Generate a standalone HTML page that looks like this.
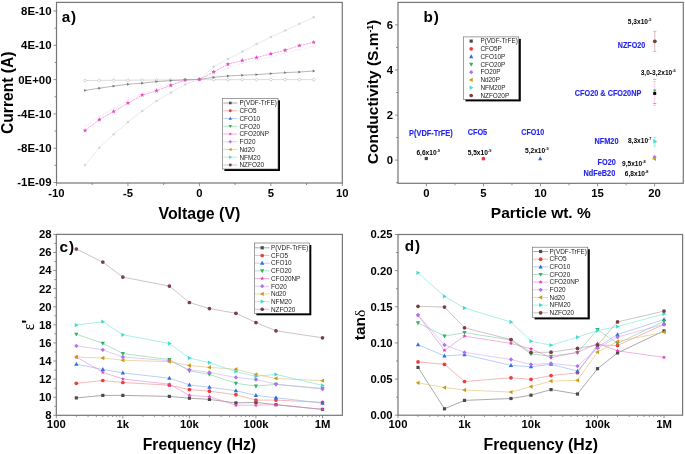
<!DOCTYPE html>
<html><head><meta charset="utf-8"><style>
html,body{margin:0;padding:0;background:#fff;}
body{width:685px;height:454px;overflow:hidden;position:relative;font-family:"Liberation Sans", sans-serif;}
svg text{font-family:"Liberation Sans", sans-serif;}
svg{will-change:transform;}
</style></head><body>
<svg width="685" height="454" viewBox="0 0 685 454" style="position:absolute;left:0;top:0" font-family='"Liberation Sans", sans-serif'>
<rect width="685" height="454" fill="#fff"/>
<rect x="56.5" y="2.4" width="285.8" height="180.6" fill="none" stroke="#767676" stroke-width="1.2"/>
<line x1="56.5" y1="183" x2="56.5" y2="186" stroke="#767676" stroke-width="0.8" />
<text x="56.5" y="196.5" font-size="11.3" font-weight="bold" fill="#000" text-anchor="middle" >-10</text>
<line x1="127.95" y1="183" x2="127.95" y2="186" stroke="#767676" stroke-width="0.8" />
<text x="127.95" y="196.5" font-size="11.3" font-weight="bold" fill="#000" text-anchor="middle" >-5</text>
<line x1="199.4" y1="183" x2="199.4" y2="186" stroke="#767676" stroke-width="0.8" />
<text x="199.4" y="196.5" font-size="11.3" font-weight="bold" fill="#000" text-anchor="middle" >0</text>
<line x1="270.85" y1="183" x2="270.85" y2="186" stroke="#767676" stroke-width="0.8" />
<text x="270.85" y="196.5" font-size="11.3" font-weight="bold" fill="#000" text-anchor="middle" >5</text>
<line x1="342.3" y1="183" x2="342.3" y2="186" stroke="#767676" stroke-width="0.8" />
<text x="342.3" y="196.5" font-size="11.3" font-weight="bold" fill="#000" text-anchor="middle" >10</text>
<line x1="92.23" y1="183" x2="92.23" y2="185" stroke="#767676" stroke-width="0.8" />
<line x1="163.68" y1="183" x2="163.68" y2="185" stroke="#767676" stroke-width="0.8" />
<line x1="235.12" y1="183" x2="235.12" y2="185" stroke="#767676" stroke-width="0.8" />
<line x1="306.57" y1="183" x2="306.57" y2="185" stroke="#767676" stroke-width="0.8" />
<line x1="53.5" y1="11" x2="56.5" y2="11" stroke="#767676" stroke-width="0.8" />
<text x="51.5" y="14.9" font-size="11.4" font-weight="bold" fill="#000" text-anchor="end" >8E-10</text>
<line x1="53.5" y1="45.3" x2="56.5" y2="45.3" stroke="#767676" stroke-width="0.8" />
<text x="51.5" y="49.2" font-size="11.4" font-weight="bold" fill="#000" text-anchor="end" >4E-10</text>
<line x1="53.5" y1="79.6" x2="56.5" y2="79.6" stroke="#767676" stroke-width="0.8" />
<text x="51.5" y="83.5" font-size="11.4" font-weight="bold" fill="#000" text-anchor="end" >0E+00</text>
<line x1="53.5" y1="113.9" x2="56.5" y2="113.9" stroke="#767676" stroke-width="0.8" />
<text x="51.5" y="117.8" font-size="11.4" font-weight="bold" fill="#000" text-anchor="end" >-4E-10</text>
<line x1="53.5" y1="148.2" x2="56.5" y2="148.2" stroke="#767676" stroke-width="0.8" />
<text x="51.5" y="152.1" font-size="11.4" font-weight="bold" fill="#000" text-anchor="end" >-8E-10</text>
<line x1="53.5" y1="182.5" x2="56.5" y2="182.5" stroke="#767676" stroke-width="0.8" />
<text x="51.5" y="186.4" font-size="11.4" font-weight="bold" fill="#000" text-anchor="end" >-1E-09</text>
<line x1="54.5" y1="28.15" x2="56.5" y2="28.15" stroke="#767676" stroke-width="0.8" />
<line x1="54.5" y1="62.45" x2="56.5" y2="62.45" stroke="#767676" stroke-width="0.8" />
<line x1="54.5" y1="96.75" x2="56.5" y2="96.75" stroke="#767676" stroke-width="0.8" />
<line x1="54.5" y1="131.05" x2="56.5" y2="131.05" stroke="#767676" stroke-width="0.8" />
<line x1="54.5" y1="165.35" x2="56.5" y2="165.35" stroke="#767676" stroke-width="0.8" />
<text x="199.4" y="218.7" font-size="15.9" font-weight="bold" fill="#000" text-anchor="middle" >Voltage (V)</text>
<text transform="translate(12.7,92.8) rotate(-90)" font-size="15.6" font-weight="bold" text-anchor="middle">Current (A)</text>
<text x="61.8" y="21.6" font-size="15.3" font-weight="bold" fill="#000" text-anchor="start" letter-spacing="0.8">a)</text>
<polyline points="85.08,165.1 99.37,147.7 113.66,134.2 127.95,122.1 142.24,111 156.53,100.9 170.82,92.6 185.11,84.5 199.4,79.4 213.69,66.8 227.98,59 242.27,51.6 256.56,44.1 270.85,37.1 285.14,30.4 299.43,23.8 313.72,17.3" fill="none" stroke="#dcdcdc" stroke-width="0.6" />
<circle cx="85.08" cy="165.1" r="1.25" fill="#d6d6d6"/>
<circle cx="99.37" cy="147.7" r="1.25" fill="#d6d6d6"/>
<circle cx="113.66" cy="134.2" r="1.25" fill="#d6d6d6"/>
<circle cx="127.95" cy="122.1" r="1.25" fill="#d6d6d6"/>
<circle cx="142.24" cy="111" r="1.25" fill="#d6d6d6"/>
<circle cx="156.53" cy="100.9" r="1.25" fill="#d6d6d6"/>
<circle cx="170.82" cy="92.6" r="1.25" fill="#d6d6d6"/>
<circle cx="185.11" cy="84.5" r="1.25" fill="#d6d6d6"/>
<circle cx="199.4" cy="79.4" r="1.25" fill="#d6d6d6"/>
<circle cx="213.69" cy="66.8" r="1.25" fill="#d6d6d6"/>
<circle cx="227.98" cy="59" r="1.25" fill="#d6d6d6"/>
<circle cx="242.27" cy="51.6" r="1.25" fill="#d6d6d6"/>
<circle cx="256.56" cy="44.1" r="1.25" fill="#d6d6d6"/>
<circle cx="270.85" cy="37.1" r="1.25" fill="#d6d6d6"/>
<circle cx="285.14" cy="30.4" r="1.25" fill="#d6d6d6"/>
<circle cx="299.43" cy="23.8" r="1.25" fill="#d6d6d6"/>
<circle cx="313.72" cy="17.3" r="1.25" fill="#d6d6d6"/>
<polyline points="85.08,126 99.37,116.3 113.66,108.3 127.95,100.6 142.24,93.2 156.53,88.6 170.82,84.2 185.11,80.8 199.4,79.4 213.69,73.8 227.98,68 242.27,63.5 256.56,60.1 270.85,56.9 285.14,53 299.43,49.6 313.72,46.2" fill="none" stroke="#f7e6f3" stroke-width="0.6" />
<line x1="84.08" y1="126" x2="86.08" y2="126" stroke="#f0d8ea" stroke-width="0.6" />
<line x1="98.37" y1="116.3" x2="100.37" y2="116.3" stroke="#f0d8ea" stroke-width="0.6" />
<line x1="112.66" y1="108.3" x2="114.66" y2="108.3" stroke="#f0d8ea" stroke-width="0.6" />
<line x1="126.95" y1="100.6" x2="128.95" y2="100.6" stroke="#f0d8ea" stroke-width="0.6" />
<line x1="141.24" y1="93.2" x2="143.24" y2="93.2" stroke="#f0d8ea" stroke-width="0.6" />
<line x1="155.53" y1="88.6" x2="157.53" y2="88.6" stroke="#f0d8ea" stroke-width="0.6" />
<line x1="169.82" y1="84.2" x2="171.82" y2="84.2" stroke="#f0d8ea" stroke-width="0.6" />
<line x1="184.11" y1="80.8" x2="186.11" y2="80.8" stroke="#f0d8ea" stroke-width="0.6" />
<line x1="198.4" y1="79.4" x2="200.4" y2="79.4" stroke="#f0d8ea" stroke-width="0.6" />
<line x1="212.69" y1="73.8" x2="214.69" y2="73.8" stroke="#f0d8ea" stroke-width="0.6" />
<line x1="226.98" y1="68" x2="228.98" y2="68" stroke="#f0d8ea" stroke-width="0.6" />
<line x1="241.27" y1="63.5" x2="243.27" y2="63.5" stroke="#f0d8ea" stroke-width="0.6" />
<line x1="255.56" y1="60.1" x2="257.56" y2="60.1" stroke="#f0d8ea" stroke-width="0.6" />
<line x1="269.85" y1="56.9" x2="271.85" y2="56.9" stroke="#f0d8ea" stroke-width="0.6" />
<line x1="284.14" y1="53" x2="286.14" y2="53" stroke="#f0d8ea" stroke-width="0.6" />
<line x1="298.43" y1="49.6" x2="300.43" y2="49.6" stroke="#f0d8ea" stroke-width="0.6" />
<line x1="312.72" y1="46.2" x2="314.72" y2="46.2" stroke="#f0d8ea" stroke-width="0.6" />
<polyline points="85.08,80.5 99.37,80.4 113.66,80.3 127.95,80.2 142.24,80.1 156.53,80 170.82,79.9 185.11,79.7 199.4,79.5 213.69,79.7 227.98,79.7 242.27,79.6 256.56,79.6 270.85,79.6 285.14,79.6 299.43,79.6 313.72,79.6" fill="none" stroke="#c4c4c4" stroke-width="0.6" />
<polygon points="85.08,78.9 86.68,80.5 85.08,82.1 83.48,80.5" fill="#fff" stroke="#b4b4b4" stroke-width="0.6"/>
<polygon points="99.37,78.8 100.97,80.4 99.37,82 97.77,80.4" fill="#fff" stroke="#b4b4b4" stroke-width="0.6"/>
<polygon points="113.66,78.7 115.26,80.3 113.66,81.9 112.06,80.3" fill="#fff" stroke="#b4b4b4" stroke-width="0.6"/>
<polygon points="127.95,78.6 129.55,80.2 127.95,81.8 126.35,80.2" fill="#fff" stroke="#b4b4b4" stroke-width="0.6"/>
<polygon points="142.24,78.5 143.84,80.1 142.24,81.7 140.64,80.1" fill="#fff" stroke="#b4b4b4" stroke-width="0.6"/>
<polygon points="156.53,78.4 158.13,80 156.53,81.6 154.93,80" fill="#fff" stroke="#b4b4b4" stroke-width="0.6"/>
<polygon points="170.82,78.3 172.42,79.9 170.82,81.5 169.22,79.9" fill="#fff" stroke="#b4b4b4" stroke-width="0.6"/>
<polygon points="185.11,78.1 186.71,79.7 185.11,81.3 183.51,79.7" fill="#fff" stroke="#b4b4b4" stroke-width="0.6"/>
<polygon points="199.4,77.9 201,79.5 199.4,81.1 197.8,79.5" fill="#fff" stroke="#b4b4b4" stroke-width="0.6"/>
<polygon points="213.69,78.1 215.29,79.7 213.69,81.3 212.09,79.7" fill="#fff" stroke="#b4b4b4" stroke-width="0.6"/>
<polygon points="227.98,78.1 229.58,79.7 227.98,81.3 226.38,79.7" fill="#fff" stroke="#b4b4b4" stroke-width="0.6"/>
<polygon points="242.27,78 243.87,79.6 242.27,81.2 240.67,79.6" fill="#fff" stroke="#b4b4b4" stroke-width="0.6"/>
<polygon points="256.56,78 258.16,79.6 256.56,81.2 254.96,79.6" fill="#fff" stroke="#b4b4b4" stroke-width="0.6"/>
<polygon points="270.85,78 272.45,79.6 270.85,81.2 269.25,79.6" fill="#fff" stroke="#b4b4b4" stroke-width="0.6"/>
<polygon points="285.14,78 286.74,79.6 285.14,81.2 283.54,79.6" fill="#fff" stroke="#b4b4b4" stroke-width="0.6"/>
<polygon points="299.43,78 301.03,79.6 299.43,81.2 297.83,79.6" fill="#fff" stroke="#b4b4b4" stroke-width="0.6"/>
<polygon points="313.72,78 315.32,79.6 313.72,81.2 312.12,79.6" fill="#fff" stroke="#b4b4b4" stroke-width="0.6"/>
<polyline points="85.08,90.4 99.37,88.2 113.66,86.1 127.95,84.2 142.24,83.2 156.53,81.6 170.82,80.6 185.11,79.9 199.4,79.4 213.69,77.3 227.98,76 242.27,75.2 256.56,74.6 270.85,73.6 285.14,72.6 299.43,72 313.72,71" fill="none" stroke="#989898" stroke-width="0.7" />
<polygon points="86.64,90.4 84.04,88.97 84.04,91.83" fill="#777"/>
<polygon points="100.93,88.2 98.33,86.77 98.33,89.63" fill="#777"/>
<polygon points="115.22,86.1 112.62,84.67 112.62,87.53" fill="#777"/>
<polygon points="129.51,84.2 126.91,82.77 126.91,85.63" fill="#777"/>
<polygon points="143.8,83.2 141.2,81.77 141.2,84.63" fill="#777"/>
<polygon points="158.09,81.6 155.49,80.17 155.49,83.03" fill="#777"/>
<polygon points="172.38,80.6 169.78,79.17 169.78,82.03" fill="#777"/>
<polygon points="186.67,79.9 184.07,78.47 184.07,81.33" fill="#777"/>
<polygon points="200.96,79.4 198.36,77.97 198.36,80.83" fill="#777"/>
<polygon points="215.25,77.3 212.65,75.87 212.65,78.73" fill="#777"/>
<polygon points="229.54,76 226.94,74.57 226.94,77.43" fill="#777"/>
<polygon points="243.83,75.2 241.23,73.77 241.23,76.63" fill="#777"/>
<polygon points="258.12,74.6 255.52,73.17 255.52,76.03" fill="#777"/>
<polygon points="272.41,73.6 269.81,72.17 269.81,75.03" fill="#777"/>
<polygon points="286.7,72.6 284.1,71.17 284.1,74.03" fill="#777"/>
<polygon points="300.99,72 298.39,70.57 298.39,73.43" fill="#777"/>
<polygon points="315.28,71 312.68,69.57 312.68,72.43" fill="#777"/>
<polyline points="85.08,130.5 99.37,119.7 113.66,111.5 127.95,103.1 142.24,95.1 156.53,90.7 170.82,85.4 185.11,79.9 199.4,79.4 213.69,71.9 227.98,64.2 242.27,60.5 256.56,57.5 270.85,53.8 285.14,50.2 299.43,45.6 313.72,42.3" fill="none" stroke="#ee80d6" stroke-width="0.7" stroke-dasharray="2.2,0.8"/>
<polygon points="85.08,128.12 85.68,129.67 87.34,129.76 86.05,130.82 86.48,132.43 85.08,131.52 83.68,132.43 84.11,130.82 82.82,129.76 84.48,129.67" fill="#e848c0"/>
<polygon points="99.37,117.32 99.97,118.87 101.63,118.96 100.34,120.02 100.77,121.63 99.37,120.72 97.97,121.63 98.4,120.02 97.11,118.96 98.77,118.87" fill="#e848c0"/>
<polygon points="113.66,109.12 114.26,110.67 115.92,110.76 114.63,111.82 115.06,113.43 113.66,112.52 112.26,113.43 112.69,111.82 111.4,110.76 113.06,110.67" fill="#e848c0"/>
<polygon points="127.95,100.72 128.55,102.27 130.21,102.36 128.92,103.42 129.35,105.03 127.95,104.12 126.55,105.03 126.98,103.42 125.69,102.36 127.35,102.27" fill="#e848c0"/>
<polygon points="142.24,92.72 142.84,94.27 144.5,94.36 143.21,95.42 143.64,97.03 142.24,96.12 140.84,97.03 141.27,95.42 139.98,94.36 141.64,94.27" fill="#e848c0"/>
<polygon points="156.53,88.32 157.13,89.87 158.79,89.96 157.5,91.02 157.93,92.63 156.53,91.72 155.13,92.63 155.56,91.02 154.27,89.96 155.93,89.87" fill="#e848c0"/>
<polygon points="170.82,83.02 171.42,84.57 173.08,84.66 171.79,85.72 172.22,87.33 170.82,86.42 169.42,87.33 169.85,85.72 168.56,84.66 170.22,84.57" fill="#e848c0"/>
<polygon points="185.11,77.52 185.71,79.07 187.37,79.16 186.08,80.22 186.51,81.83 185.11,80.92 183.71,81.83 184.14,80.22 182.85,79.16 184.51,79.07" fill="#e848c0"/>
<polygon points="199.4,77.02 200,78.57 201.66,78.66 200.37,79.72 200.8,81.33 199.4,80.42 198,81.33 198.43,79.72 197.14,78.66 198.8,78.57" fill="#e848c0"/>
<polygon points="213.69,69.52 214.29,71.07 215.95,71.16 214.66,72.22 215.09,73.83 213.69,72.92 212.29,73.83 212.72,72.22 211.43,71.16 213.09,71.07" fill="#e848c0"/>
<polygon points="227.98,61.82 228.58,63.37 230.24,63.46 228.95,64.52 229.38,66.13 227.98,65.22 226.58,66.13 227.01,64.52 225.72,63.46 227.38,63.37" fill="#e848c0"/>
<polygon points="242.27,58.12 242.87,59.67 244.53,59.76 243.24,60.82 243.67,62.43 242.27,61.52 240.87,62.43 241.3,60.82 240.01,59.76 241.67,59.67" fill="#e848c0"/>
<polygon points="256.56,55.12 257.16,56.67 258.82,56.76 257.53,57.82 257.96,59.43 256.56,58.52 255.16,59.43 255.59,57.82 254.3,56.76 255.96,56.67" fill="#e848c0"/>
<polygon points="270.85,51.42 271.45,52.97 273.11,53.06 271.82,54.12 272.25,55.73 270.85,54.82 269.45,55.73 269.88,54.12 268.59,53.06 270.25,52.97" fill="#e848c0"/>
<polygon points="285.14,47.82 285.74,49.37 287.4,49.46 286.11,50.52 286.54,52.13 285.14,51.22 283.74,52.13 284.17,50.52 282.88,49.46 284.54,49.37" fill="#e848c0"/>
<polygon points="299.43,43.22 300.03,44.77 301.69,44.86 300.4,45.92 300.83,47.53 299.43,46.62 298.03,47.53 298.46,45.92 297.17,44.86 298.83,44.77" fill="#e848c0"/>
<polygon points="313.72,39.92 314.32,41.47 315.98,41.56 314.69,42.62 315.12,44.23 313.72,43.32 312.32,44.23 312.75,42.62 311.46,41.56 313.12,41.47" fill="#e848c0"/>
<rect x="224.4" y="100.3" width="55.6" height="70.7" fill="#000"/>
<rect x="222.4" y="98.3" width="55.6" height="70.7" fill="#fff" stroke="#606060" stroke-width="0.6"/>
<line x1="223.4" y1="103" x2="237.2" y2="103" stroke="#707070" stroke-width="0.6" />
<rect x="229.02" y="101.72" width="2.56" height="2.56" fill="#4a4a4a"/>
<text x="239.5" y="105.3" font-size="6.4" font-weight="normal" fill="#202020" text-anchor="start" >P(VDF-TrFE)</text>
<line x1="223.4" y1="110.75" x2="237.2" y2="110.75" stroke="#f08a8a" stroke-width="0.6" />
<circle cx="230.3" cy="110.75" r="1.48" fill="#ee3b3b"/>
<text x="239.5" y="113.05" font-size="6.4" font-weight="normal" fill="#202020" text-anchor="start" >CFO5</text>
<line x1="223.4" y1="118.5" x2="237.2" y2="118.5" stroke="#8ab0ee" stroke-width="0.6" />
<polygon points="230.3,116.63 232.02,119.75 228.58,119.75" fill="#2f6fe0"/>
<text x="239.5" y="120.8" font-size="6.4" font-weight="normal" fill="#202020" text-anchor="start" >CFO10</text>
<line x1="223.4" y1="126.25" x2="237.2" y2="126.25" stroke="#7fcc9e" stroke-width="0.6" />
<polygon points="230.3,128.12 232.02,125 228.58,125" fill="#35b06a"/>
<text x="239.5" y="128.55" font-size="6.4" font-weight="normal" fill="#202020" text-anchor="start" >CFO20</text>
<line x1="223.4" y1="134" x2="237.2" y2="134" stroke="#e880cc" stroke-width="0.6" />
<polygon points="230.3,132.21 230.75,133.38 232,133.45 231.03,134.24 231.35,135.45 230.3,134.77 229.25,135.45 229.57,134.24 228.6,133.45 229.85,133.38" fill="#e040b8"/>
<text x="239.5" y="136.3" font-size="6.4" font-weight="normal" fill="#202020" text-anchor="start" >CFO20NP</text>
<line x1="223.4" y1="141.75" x2="237.2" y2="141.75" stroke="#cfaaf5" stroke-width="0.6" />
<polygon points="230.3,140.03 232.02,141.75 230.3,143.47 228.58,141.75" fill="#b070f0"/>
<text x="239.5" y="144.05" font-size="6.4" font-weight="normal" fill="#202020" text-anchor="start" >FO20</text>
<line x1="223.4" y1="149.5" x2="237.2" y2="149.5" stroke="#dcc070" stroke-width="0.6" />
<polygon points="228.43,149.5 231.55,147.78 231.55,151.22" fill="#cc9a10"/>
<text x="239.5" y="151.8" font-size="6.4" font-weight="normal" fill="#202020" text-anchor="start" >Nd20</text>
<line x1="223.4" y1="157.25" x2="237.2" y2="157.25" stroke="#70e4da" stroke-width="0.6" />
<polygon points="232.17,157.25 229.05,155.53 229.05,158.97" fill="#40dcd0"/>
<text x="239.5" y="159.55" font-size="6.4" font-weight="normal" fill="#202020" text-anchor="start" >NFM20</text>
<line x1="223.4" y1="165" x2="237.2" y2="165" stroke="#b09c9c" stroke-width="0.6" />
<circle cx="230.3" cy="165" r="1.48" fill="#7a3e46"/>
<text x="239.5" y="167.3" font-size="6.4" font-weight="normal" fill="#202020" text-anchor="start" >NZFO20</text>
<rect x="398" y="2.4" width="285.3" height="180.9" fill="none" stroke="#767676" stroke-width="1.2"/>
<line x1="426.4" y1="183.3" x2="426.4" y2="186.3" stroke="#767676" stroke-width="0.8" />
<text x="426.4" y="196.5" font-size="11.3" font-weight="bold" fill="#000" text-anchor="middle" >0</text>
<line x1="483.45" y1="183.3" x2="483.45" y2="186.3" stroke="#767676" stroke-width="0.8" />
<text x="483.45" y="196.5" font-size="11.3" font-weight="bold" fill="#000" text-anchor="middle" >5</text>
<line x1="540.5" y1="183.3" x2="540.5" y2="186.3" stroke="#767676" stroke-width="0.8" />
<text x="540.5" y="196.5" font-size="11.3" font-weight="bold" fill="#000" text-anchor="middle" >10</text>
<line x1="597.55" y1="183.3" x2="597.55" y2="186.3" stroke="#767676" stroke-width="0.8" />
<text x="597.55" y="196.5" font-size="11.3" font-weight="bold" fill="#000" text-anchor="middle" >15</text>
<line x1="654.6" y1="183.3" x2="654.6" y2="186.3" stroke="#767676" stroke-width="0.8" />
<text x="654.6" y="196.5" font-size="11.3" font-weight="bold" fill="#000" text-anchor="middle" >20</text>
<line x1="454.92" y1="183.3" x2="454.92" y2="185.3" stroke="#767676" stroke-width="0.8" />
<line x1="511.97" y1="183.3" x2="511.97" y2="185.3" stroke="#767676" stroke-width="0.8" />
<line x1="569.02" y1="183.3" x2="569.02" y2="185.3" stroke="#767676" stroke-width="0.8" />
<line x1="626.08" y1="183.3" x2="626.08" y2="185.3" stroke="#767676" stroke-width="0.8" />
<line x1="395" y1="160.1" x2="398" y2="160.1" stroke="#767676" stroke-width="0.8" />
<text x="393" y="164" font-size="11.3" font-weight="bold" fill="#000" text-anchor="end" >0</text>
<line x1="395" y1="115.04" x2="398" y2="115.04" stroke="#767676" stroke-width="0.8" />
<text x="393" y="118.94" font-size="11.3" font-weight="bold" fill="#000" text-anchor="end" >2</text>
<line x1="395" y1="69.98" x2="398" y2="69.98" stroke="#767676" stroke-width="0.8" />
<text x="393" y="73.88" font-size="11.3" font-weight="bold" fill="#000" text-anchor="end" >4</text>
<line x1="395" y1="24.92" x2="398" y2="24.92" stroke="#767676" stroke-width="0.8" />
<text x="393" y="28.82" font-size="11.3" font-weight="bold" fill="#000" text-anchor="end" >6</text>
<line x1="396" y1="182.63" x2="398" y2="182.63" stroke="#767676" stroke-width="0.8" />
<line x1="396" y1="137.57" x2="398" y2="137.57" stroke="#767676" stroke-width="0.8" />
<line x1="396" y1="92.51" x2="398" y2="92.51" stroke="#767676" stroke-width="0.8" />
<line x1="396" y1="47.45" x2="398" y2="47.45" stroke="#767676" stroke-width="0.8" />
<text x="540.8" y="218.3" font-size="15.5" font-weight="bold" fill="#000" text-anchor="middle" >Particle wt. %</text>
<text transform="translate(378.2,92) rotate(-90)" font-size="15.5" font-weight="bold" text-anchor="middle">Conductivity (S.m<tspan font-size="8.5" dy="-5.5">-1</tspan><tspan dy="5.5">)</tspan></text>
<text x="423.6" y="21.8" font-size="15.3" font-weight="bold" fill="#000" text-anchor="start" letter-spacing="0.8">b)</text>
<rect x="465.5" y="38.9" width="55.3" height="62.5" fill="#000"/>
<rect x="463.5" y="36.9" width="55.3" height="62.5" fill="#fff" stroke="#606060" stroke-width="0.6"/>
<rect x="469.6" y="39.5" width="3.2" height="3.2" fill="#4a4a4a"/>
<text x="480.4" y="43.4" font-size="6.4" font-weight="normal" fill="#202020" text-anchor="start" >P(VDF-TrFE)</text>
<circle cx="471.2" cy="48.87" r="1.85" fill="#ee3b3b"/>
<text x="480.4" y="51.17" font-size="6.4" font-weight="normal" fill="#202020" text-anchor="start" >CFO5P</text>
<polygon points="471.2,54.3 473.34,58.2 469.06,58.2" fill="#2f6fe0"/>
<text x="480.4" y="58.94" font-size="6.4" font-weight="normal" fill="#202020" text-anchor="start" >CFO10P</text>
<polygon points="471.2,66.75 473.34,62.85 469.06,62.85" fill="#35b06a"/>
<text x="480.4" y="66.71" font-size="6.4" font-weight="normal" fill="#202020" text-anchor="start" >CFO20P</text>
<polygon points="471.2,70.04 473.34,72.18 471.2,74.33 469.06,72.18" fill="#b070f0"/>
<text x="480.4" y="74.48" font-size="6.4" font-weight="normal" fill="#202020" text-anchor="start" >FO20P</text>
<polygon points="468.86,79.95 472.76,77.8 472.76,82.09" fill="#cc9a10"/>
<text x="480.4" y="82.25" font-size="6.4" font-weight="normal" fill="#202020" text-anchor="start" >Nd20P</text>
<polygon points="473.54,87.72 469.64,85.58 469.64,89.86" fill="#40dcd0"/>
<text x="480.4" y="90.02" font-size="6.4" font-weight="normal" fill="#202020" text-anchor="start" >NFM20P</text>
<circle cx="471.2" cy="95.49" r="1.85" fill="#7a3e46"/>
<text x="480.4" y="97.79" font-size="6.4" font-weight="normal" fill="#202020" text-anchor="start" >NZFO20P</text>
<rect x="424.7" y="156.9" width="3.2" height="3.2" fill="#4a4a4a"/>
<circle cx="483.4" cy="158.7" r="1.9" fill="#ee3b3b"/>
<polygon points="540.2,156.26 542.35,160.16 538.06,160.16" fill="#2f6fe0"/>
<line x1="654.8" y1="31.3" x2="654.8" y2="51.4" stroke="#c8a0a8" stroke-width="0.7" />
<line x1="653.2" y1="31.3" x2="656.4" y2="31.3" stroke="#c8a0a8" stroke-width="0.7" />
<line x1="653.2" y1="51.4" x2="656.4" y2="51.4" stroke="#c8a0a8" stroke-width="0.7" />
<circle cx="654.8" cy="41.3" r="1.9" fill="#7a3e46"/>
<line x1="654.7" y1="81.5" x2="654.7" y2="105.6" stroke="#f0b8e0" stroke-width="0.7" />
<line x1="653.1" y1="81.5" x2="656.3" y2="81.5" stroke="#f0b8e0" stroke-width="0.7" />
<line x1="653.1" y1="105.6" x2="656.3" y2="105.6" stroke="#f0b8e0" stroke-width="0.7" />
<line x1="653.1" y1="79.3" x2="656.3" y2="79.3" stroke="#60c090" stroke-width="0.8" />
<line x1="653.1" y1="103.5" x2="656.3" y2="103.5" stroke="#60c090" stroke-width="0.8" />
<polygon points="654.7,92.6 656.35,89.6 653.05,89.6" fill="#35b06a"/>
<rect x="653.2" y="91.9" width="3" height="3" fill="#000"/>
<line x1="654.8" y1="137.1" x2="654.8" y2="146.3" stroke="#80e8e0" stroke-width="0.7" />
<line x1="653.2" y1="137.1" x2="656.4" y2="137.1" stroke="#80e8e0" stroke-width="0.7" />
<line x1="653.2" y1="146.3" x2="656.4" y2="146.3" stroke="#80e8e0" stroke-width="0.7" />
<polygon points="657.3,141.5 653.3,139.3 653.3,143.7" fill="#40dcd0"/>
<polygon points="654.6,154.92 656.68,157 654.6,159.08 652.52,157" fill="#b070f0"/>
<polygon points="652,158.7 656,156.5 656,160.9" fill="#cc9a10"/>
<text x="409.1" y="136" font-size="8.6" font-weight="bold" fill="#2828f0" text-anchor="start" textLength="43.6" lengthAdjust="spacingAndGlyphs" stroke="#2828f0" stroke-width="0.15">P(VDF-TrFE)</text>
<text x="467.7" y="135" font-size="8.6" font-weight="bold" fill="#2828f0" text-anchor="start" textLength="19.4" lengthAdjust="spacingAndGlyphs" stroke="#2828f0" stroke-width="0.15">CFO5</text>
<text x="521.3" y="135" font-size="8.6" font-weight="bold" fill="#2828f0" text-anchor="start" textLength="22.9" lengthAdjust="spacingAndGlyphs" stroke="#2828f0" stroke-width="0.15">CFO10</text>
<text x="617.8" y="47.7" font-size="8.6" font-weight="bold" fill="#2828f0" text-anchor="start" textLength="27.4" lengthAdjust="spacingAndGlyphs" stroke="#2828f0" stroke-width="0.15">NZFO20</text>
<text x="574.8" y="96.4" font-size="8.6" font-weight="bold" fill="#2828f0" text-anchor="start" textLength="66.5" lengthAdjust="spacingAndGlyphs" stroke="#2828f0" stroke-width="0.15">CFO20 &amp; CFO20NP</text>
<text x="594.5" y="143.5" font-size="8.6" font-weight="bold" fill="#2828f0" text-anchor="start" textLength="24" lengthAdjust="spacingAndGlyphs" stroke="#2828f0" stroke-width="0.15">NFM20</text>
<text x="597.6" y="164.9" font-size="8.6" font-weight="bold" fill="#2828f0" text-anchor="start" textLength="18.2" lengthAdjust="spacingAndGlyphs" stroke="#2828f0" stroke-width="0.15">FO20</text>
<text x="583.5" y="176.1" font-size="8.6" font-weight="bold" fill="#2828f0" text-anchor="start" textLength="31.7" lengthAdjust="spacingAndGlyphs" stroke="#2828f0" stroke-width="0.15">NdFeB20</text>
<text x="627.8" y="23.8" font-size="6.6" font-weight="bold" fill="#000">5,3x10<tspan font-size="3.9" dy="-3">-5</tspan></text>
<text x="640.7" y="74.5" font-size="6.6" font-weight="bold" fill="#000">3,0-3,2x10<tspan font-size="3.9" dy="-3">-6</tspan></text>
<text x="627.9" y="143" font-size="6.6" font-weight="bold" fill="#000">8,3x10<tspan font-size="3.9" dy="-3">-7</tspan></text>
<text x="622" y="165.8" font-size="6.6" font-weight="bold" fill="#000">9,5x10<tspan font-size="3.9" dy="-3">-8</tspan></text>
<text x="624.8" y="176" font-size="6.6" font-weight="bold" fill="#000">6,8x10<tspan font-size="3.9" dy="-3">-8</tspan></text>
<text x="416.4" y="154.6" font-size="6.6" font-weight="bold" fill="#000">6,6x10<tspan font-size="3.9" dy="-3">-9</tspan></text>
<text x="467.7" y="154.6" font-size="6.6" font-weight="bold" fill="#000">5,5x10<tspan font-size="3.9" dy="-3">-9</tspan></text>
<text x="525" y="153.4" font-size="6.6" font-weight="bold" fill="#000">5,2x10<tspan font-size="3.9" dy="-3">-9</tspan></text>
<rect x="56.3" y="234.4" width="286.1" height="180.9" fill="none" stroke="#767676" stroke-width="1.2"/>
<line x1="56.3" y1="415.3" x2="56.3" y2="418.3" stroke="#767676" stroke-width="0.8" />
<text x="56.3" y="428.3" font-size="11.3" font-weight="bold" fill="#000" text-anchor="middle" >100</text>
<line x1="122.85" y1="415.3" x2="122.85" y2="418.3" stroke="#767676" stroke-width="0.8" />
<text x="122.85" y="428.3" font-size="11.3" font-weight="bold" fill="#000" text-anchor="middle" >1k</text>
<line x1="189.4" y1="415.3" x2="189.4" y2="418.3" stroke="#767676" stroke-width="0.8" />
<text x="189.4" y="428.3" font-size="11.3" font-weight="bold" fill="#000" text-anchor="middle" >10k</text>
<line x1="255.95" y1="415.3" x2="255.95" y2="418.3" stroke="#767676" stroke-width="0.8" />
<text x="255.95" y="428.3" font-size="11.3" font-weight="bold" fill="#000" text-anchor="middle" >100k</text>
<line x1="322.5" y1="415.3" x2="322.5" y2="418.3" stroke="#767676" stroke-width="0.8" />
<text x="322.5" y="428.3" font-size="11.3" font-weight="bold" fill="#000" text-anchor="middle" >1M</text>
<line x1="76.33" y1="415.3" x2="76.33" y2="417.1" stroke="#767676" stroke-width="0.7" />
<line x1="88.05" y1="415.3" x2="88.05" y2="417.1" stroke="#767676" stroke-width="0.7" />
<line x1="96.37" y1="415.3" x2="96.37" y2="417.1" stroke="#767676" stroke-width="0.7" />
<line x1="102.82" y1="415.3" x2="102.82" y2="417.1" stroke="#767676" stroke-width="0.7" />
<line x1="108.09" y1="415.3" x2="108.09" y2="417.1" stroke="#767676" stroke-width="0.7" />
<line x1="112.54" y1="415.3" x2="112.54" y2="417.1" stroke="#767676" stroke-width="0.7" />
<line x1="116.4" y1="415.3" x2="116.4" y2="417.1" stroke="#767676" stroke-width="0.7" />
<line x1="119.8" y1="415.3" x2="119.8" y2="417.1" stroke="#767676" stroke-width="0.7" />
<line x1="142.88" y1="415.3" x2="142.88" y2="417.1" stroke="#767676" stroke-width="0.7" />
<line x1="154.6" y1="415.3" x2="154.6" y2="417.1" stroke="#767676" stroke-width="0.7" />
<line x1="162.92" y1="415.3" x2="162.92" y2="417.1" stroke="#767676" stroke-width="0.7" />
<line x1="169.37" y1="415.3" x2="169.37" y2="417.1" stroke="#767676" stroke-width="0.7" />
<line x1="174.64" y1="415.3" x2="174.64" y2="417.1" stroke="#767676" stroke-width="0.7" />
<line x1="179.09" y1="415.3" x2="179.09" y2="417.1" stroke="#767676" stroke-width="0.7" />
<line x1="182.95" y1="415.3" x2="182.95" y2="417.1" stroke="#767676" stroke-width="0.7" />
<line x1="186.35" y1="415.3" x2="186.35" y2="417.1" stroke="#767676" stroke-width="0.7" />
<line x1="209.43" y1="415.3" x2="209.43" y2="417.1" stroke="#767676" stroke-width="0.7" />
<line x1="221.15" y1="415.3" x2="221.15" y2="417.1" stroke="#767676" stroke-width="0.7" />
<line x1="229.47" y1="415.3" x2="229.47" y2="417.1" stroke="#767676" stroke-width="0.7" />
<line x1="235.92" y1="415.3" x2="235.92" y2="417.1" stroke="#767676" stroke-width="0.7" />
<line x1="241.19" y1="415.3" x2="241.19" y2="417.1" stroke="#767676" stroke-width="0.7" />
<line x1="245.64" y1="415.3" x2="245.64" y2="417.1" stroke="#767676" stroke-width="0.7" />
<line x1="249.5" y1="415.3" x2="249.5" y2="417.1" stroke="#767676" stroke-width="0.7" />
<line x1="252.9" y1="415.3" x2="252.9" y2="417.1" stroke="#767676" stroke-width="0.7" />
<line x1="275.98" y1="415.3" x2="275.98" y2="417.1" stroke="#767676" stroke-width="0.7" />
<line x1="287.7" y1="415.3" x2="287.7" y2="417.1" stroke="#767676" stroke-width="0.7" />
<line x1="296.02" y1="415.3" x2="296.02" y2="417.1" stroke="#767676" stroke-width="0.7" />
<line x1="302.47" y1="415.3" x2="302.47" y2="417.1" stroke="#767676" stroke-width="0.7" />
<line x1="307.74" y1="415.3" x2="307.74" y2="417.1" stroke="#767676" stroke-width="0.7" />
<line x1="312.19" y1="415.3" x2="312.19" y2="417.1" stroke="#767676" stroke-width="0.7" />
<line x1="316.05" y1="415.3" x2="316.05" y2="417.1" stroke="#767676" stroke-width="0.7" />
<line x1="319.45" y1="415.3" x2="319.45" y2="417.1" stroke="#767676" stroke-width="0.7" />
<line x1="53.3" y1="415.3" x2="56.3" y2="415.3" stroke="#767676" stroke-width="0.8" />
<text x="51.5" y="419.2" font-size="11.3" font-weight="bold" fill="#000" text-anchor="end" >8</text>
<line x1="53.3" y1="397.21" x2="56.3" y2="397.21" stroke="#767676" stroke-width="0.8" />
<text x="51.5" y="401.11" font-size="11.3" font-weight="bold" fill="#000" text-anchor="end" >10</text>
<line x1="53.3" y1="379.12" x2="56.3" y2="379.12" stroke="#767676" stroke-width="0.8" />
<text x="51.5" y="383.02" font-size="11.3" font-weight="bold" fill="#000" text-anchor="end" >12</text>
<line x1="53.3" y1="361.03" x2="56.3" y2="361.03" stroke="#767676" stroke-width="0.8" />
<text x="51.5" y="364.93" font-size="11.3" font-weight="bold" fill="#000" text-anchor="end" >14</text>
<line x1="53.3" y1="342.94" x2="56.3" y2="342.94" stroke="#767676" stroke-width="0.8" />
<text x="51.5" y="346.84" font-size="11.3" font-weight="bold" fill="#000" text-anchor="end" >16</text>
<line x1="53.3" y1="324.85" x2="56.3" y2="324.85" stroke="#767676" stroke-width="0.8" />
<text x="51.5" y="328.75" font-size="11.3" font-weight="bold" fill="#000" text-anchor="end" >18</text>
<line x1="53.3" y1="306.76" x2="56.3" y2="306.76" stroke="#767676" stroke-width="0.8" />
<text x="51.5" y="310.66" font-size="11.3" font-weight="bold" fill="#000" text-anchor="end" >20</text>
<line x1="53.3" y1="288.67" x2="56.3" y2="288.67" stroke="#767676" stroke-width="0.8" />
<text x="51.5" y="292.57" font-size="11.3" font-weight="bold" fill="#000" text-anchor="end" >22</text>
<line x1="53.3" y1="270.58" x2="56.3" y2="270.58" stroke="#767676" stroke-width="0.8" />
<text x="51.5" y="274.48" font-size="11.3" font-weight="bold" fill="#000" text-anchor="end" >24</text>
<line x1="53.3" y1="252.49" x2="56.3" y2="252.49" stroke="#767676" stroke-width="0.8" />
<text x="51.5" y="256.39" font-size="11.3" font-weight="bold" fill="#000" text-anchor="end" >26</text>
<line x1="53.3" y1="234.4" x2="56.3" y2="234.4" stroke="#767676" stroke-width="0.8" />
<text x="51.5" y="238.3" font-size="11.3" font-weight="bold" fill="#000" text-anchor="end" >28</text>
<line x1="54.3" y1="406.25" x2="56.3" y2="406.25" stroke="#767676" stroke-width="0.8" />
<line x1="54.3" y1="388.17" x2="56.3" y2="388.17" stroke="#767676" stroke-width="0.8" />
<line x1="54.3" y1="370.07" x2="56.3" y2="370.07" stroke="#767676" stroke-width="0.8" />
<line x1="54.3" y1="351.99" x2="56.3" y2="351.99" stroke="#767676" stroke-width="0.8" />
<line x1="54.3" y1="333.89" x2="56.3" y2="333.89" stroke="#767676" stroke-width="0.8" />
<line x1="54.3" y1="315.81" x2="56.3" y2="315.81" stroke="#767676" stroke-width="0.8" />
<line x1="54.3" y1="297.72" x2="56.3" y2="297.72" stroke="#767676" stroke-width="0.8" />
<line x1="54.3" y1="279.62" x2="56.3" y2="279.62" stroke="#767676" stroke-width="0.8" />
<line x1="54.3" y1="261.54" x2="56.3" y2="261.54" stroke="#767676" stroke-width="0.8" />
<line x1="54.3" y1="243.45" x2="56.3" y2="243.45" stroke="#767676" stroke-width="0.8" />
<text x="199.4" y="449.8" font-size="15.7" font-weight="bold" fill="#000" text-anchor="middle" >Frequency (Hz)</text>
<text transform="translate(34,325) rotate(-90)" font-size="16" text-anchor="middle"><tspan font-family="Liberation Serif">ε</tspan><tspan font-weight="bold">'</tspan></text>
<text x="59.6" y="251.6" font-size="15.3" font-weight="bold" fill="#000" text-anchor="start" letter-spacing="0.8">c)</text>
<polyline points="76.33,397.9 102.82,395.4 122.85,395.4 169.37,396.4 189.4,398.2 209.43,399.4 235.92,402.9 255.95,402.4 275.98,404.7 322.5,409.4" fill="none" stroke="#707070" stroke-width="0.6" />
<polyline points="76.33,383.3 102.82,380.5 122.85,382.5 169.37,385.2 189.4,389.6 209.43,391.2 235.92,394.7 255.95,400.1 275.98,400.1 322.5,402.4" fill="none" stroke="#f08a8a" stroke-width="0.6" />
<polyline points="76.33,364.1 102.82,369.4 122.85,372.9 169.37,378.2 189.4,384.9 209.43,387.2 235.92,390.7 255.95,395.4 275.98,397.7 322.5,403.1" fill="none" stroke="#8ab0ee" stroke-width="0.6" />
<polyline points="76.33,334.2 102.82,343.3 122.85,353.5 169.37,359.6 189.4,370.9 209.43,374.4 235.92,383.3 255.95,386.1 275.98,384.4 322.5,388.4" fill="none" stroke="#7fcc9e" stroke-width="0.6" />
<polyline points="76.33,357 102.82,372.3 122.85,379 169.37,384.2 189.4,395.4 209.43,396.6 235.92,405.2 255.95,405.2 275.98,404.7 322.5,409.4" fill="none" stroke="#e880cc" stroke-width="0.6" />
<polyline points="76.33,345.9 102.82,349.8 122.85,357 169.37,360.7 189.4,369.7 209.43,372.5 235.92,377.4 255.95,379.5 275.98,384.2 322.5,389.1" fill="none" stroke="#cfaaf5" stroke-width="0.6" />
<polyline points="76.33,357 102.82,358 122.85,360.2 169.37,361.7 189.4,365.5 209.43,367.4 235.92,369.2 255.95,374.4 275.98,378.4 322.5,380.7" fill="none" stroke="#dcc070" stroke-width="0.6" />
<polyline points="76.33,325.1 102.82,321.7 122.85,334.8 169.37,343.5 189.4,358 209.43,362.7 235.92,371.6 255.95,376.3 275.98,374.4 322.5,385.4" fill="none" stroke="#70e4da" stroke-width="0.6" />
<polyline points="76.33,249 102.82,262.1 122.85,277.1 169.37,286.1 189.4,302.5 209.43,308.6 235.92,313.3 255.95,322.6 275.98,330.8 322.5,337.8" fill="none" stroke="#b09c9c" stroke-width="0.6" />
<rect x="74.73" y="396.3" width="3.2" height="3.2" fill="#4a4a4a"/>
<rect x="101.22" y="393.8" width="3.2" height="3.2" fill="#4a4a4a"/>
<rect x="121.25" y="393.8" width="3.2" height="3.2" fill="#4a4a4a"/>
<rect x="167.77" y="394.8" width="3.2" height="3.2" fill="#4a4a4a"/>
<rect x="187.8" y="396.6" width="3.2" height="3.2" fill="#4a4a4a"/>
<rect x="207.83" y="397.8" width="3.2" height="3.2" fill="#4a4a4a"/>
<rect x="234.32" y="401.3" width="3.2" height="3.2" fill="#4a4a4a"/>
<rect x="254.35" y="400.8" width="3.2" height="3.2" fill="#4a4a4a"/>
<rect x="274.38" y="403.1" width="3.2" height="3.2" fill="#4a4a4a"/>
<rect x="320.9" y="407.8" width="3.2" height="3.2" fill="#4a4a4a"/>
<circle cx="76.33" cy="383.3" r="1.85" fill="#ee3b3b"/>
<circle cx="102.82" cy="380.5" r="1.85" fill="#ee3b3b"/>
<circle cx="122.85" cy="382.5" r="1.85" fill="#ee3b3b"/>
<circle cx="169.37" cy="385.2" r="1.85" fill="#ee3b3b"/>
<circle cx="189.4" cy="389.6" r="1.85" fill="#ee3b3b"/>
<circle cx="209.43" cy="391.2" r="1.85" fill="#ee3b3b"/>
<circle cx="235.92" cy="394.7" r="1.85" fill="#ee3b3b"/>
<circle cx="255.95" cy="400.1" r="1.85" fill="#ee3b3b"/>
<circle cx="275.98" cy="400.1" r="1.85" fill="#ee3b3b"/>
<circle cx="322.5" cy="402.4" r="1.85" fill="#ee3b3b"/>
<polygon points="76.33,361.76 78.48,365.66 74.19,365.66" fill="#2f6fe0"/>
<polygon points="102.82,367.06 104.96,370.96 100.67,370.96" fill="#2f6fe0"/>
<polygon points="122.85,370.56 124.99,374.46 120.7,374.46" fill="#2f6fe0"/>
<polygon points="169.37,375.86 171.51,379.76 167.22,379.76" fill="#2f6fe0"/>
<polygon points="189.4,382.56 191.54,386.46 187.25,386.46" fill="#2f6fe0"/>
<polygon points="209.43,384.86 211.58,388.76 207.29,388.76" fill="#2f6fe0"/>
<polygon points="235.92,388.36 238.06,392.26 233.77,392.26" fill="#2f6fe0"/>
<polygon points="255.95,393.06 258.09,396.96 253.8,396.96" fill="#2f6fe0"/>
<polygon points="275.98,395.36 278.13,399.26 273.84,399.26" fill="#2f6fe0"/>
<polygon points="322.5,400.76 324.64,404.66 320.36,404.66" fill="#2f6fe0"/>
<polygon points="76.33,336.54 78.48,332.64 74.19,332.64" fill="#35b06a"/>
<polygon points="102.82,345.64 104.96,341.74 100.67,341.74" fill="#35b06a"/>
<polygon points="122.85,355.84 124.99,351.94 120.7,351.94" fill="#35b06a"/>
<polygon points="169.37,361.94 171.51,358.04 167.22,358.04" fill="#35b06a"/>
<polygon points="189.4,373.24 191.54,369.34 187.25,369.34" fill="#35b06a"/>
<polygon points="209.43,376.74 211.58,372.84 207.29,372.84" fill="#35b06a"/>
<polygon points="235.92,385.64 238.06,381.74 233.77,381.74" fill="#35b06a"/>
<polygon points="255.95,388.44 258.09,384.54 253.8,384.54" fill="#35b06a"/>
<polygon points="275.98,386.74 278.13,382.84 273.84,382.84" fill="#35b06a"/>
<polygon points="322.5,390.74 324.64,386.84 320.36,386.84" fill="#35b06a"/>
<polygon points="76.33,354.76 76.9,356.22 78.46,356.31 77.25,357.3 77.65,358.81 76.33,357.96 75.02,358.81 75.42,357.3 74.2,356.31 75.77,356.22" fill="#e040b8"/>
<polygon points="102.82,370.06 103.38,371.52 104.95,371.61 103.73,372.6 104.13,374.11 102.82,373.26 101.5,374.11 101.9,372.6 100.69,371.61 102.25,371.52" fill="#e040b8"/>
<polygon points="122.85,376.76 123.41,378.22 124.98,378.31 123.76,379.3 124.17,380.81 122.85,379.96 121.53,380.81 121.94,379.3 120.72,378.31 122.29,378.22" fill="#e040b8"/>
<polygon points="169.37,381.96 169.93,383.42 171.5,383.51 170.28,384.5 170.68,386.01 169.37,385.16 168.05,386.01 168.45,384.5 167.24,383.51 168.8,383.42" fill="#e040b8"/>
<polygon points="189.4,393.16 189.96,394.62 191.53,394.71 190.31,395.7 190.72,397.21 189.4,396.36 188.08,397.21 188.49,395.7 187.27,394.71 188.84,394.62" fill="#e040b8"/>
<polygon points="209.43,394.36 210,395.82 211.56,395.91 210.35,396.9 210.75,398.41 209.43,397.56 208.12,398.41 208.52,396.9 207.3,395.91 208.87,395.82" fill="#e040b8"/>
<polygon points="235.92,402.96 236.48,404.42 238.05,404.51 236.83,405.5 237.23,407.01 235.92,406.16 234.6,407.01 235,405.5 233.79,404.51 235.35,404.42" fill="#e040b8"/>
<polygon points="255.95,402.96 256.51,404.42 258.08,404.51 256.86,405.5 257.27,407.01 255.95,406.16 254.63,407.01 255.04,405.5 253.82,404.51 255.39,404.42" fill="#e040b8"/>
<polygon points="275.98,402.46 276.55,403.92 278.11,404.01 276.9,405 277.3,406.51 275.98,405.66 274.67,406.51 275.07,405 273.85,404.01 275.42,403.92" fill="#e040b8"/>
<polygon points="322.5,407.16 323.06,408.62 324.63,408.71 323.41,409.7 323.82,411.21 322.5,410.36 321.18,411.21 321.59,409.7 320.37,408.71 321.94,408.62" fill="#e040b8"/>
<polygon points="76.33,343.75 78.48,345.9 76.33,348.04 74.19,345.9" fill="#b070f0"/>
<polygon points="102.82,347.66 104.96,349.8 102.82,351.94 100.67,349.8" fill="#b070f0"/>
<polygon points="122.85,354.86 124.99,357 122.85,359.14 120.7,357" fill="#b070f0"/>
<polygon points="169.37,358.56 171.51,360.7 169.37,362.84 167.22,360.7" fill="#b070f0"/>
<polygon points="189.4,367.56 191.54,369.7 189.4,371.84 187.25,369.7" fill="#b070f0"/>
<polygon points="209.43,370.36 211.58,372.5 209.43,374.64 207.29,372.5" fill="#b070f0"/>
<polygon points="235.92,375.25 238.06,377.4 235.92,379.54 233.77,377.4" fill="#b070f0"/>
<polygon points="255.95,377.36 258.09,379.5 255.95,381.64 253.8,379.5" fill="#b070f0"/>
<polygon points="275.98,382.06 278.13,384.2 275.98,386.34 273.84,384.2" fill="#b070f0"/>
<polygon points="322.5,386.96 324.64,389.1 322.5,391.25 320.36,389.1" fill="#b070f0"/>
<polygon points="73.99,357 77.89,354.86 77.89,359.14" fill="#cc9a10"/>
<polygon points="100.48,358 104.38,355.86 104.38,360.14" fill="#cc9a10"/>
<polygon points="120.51,360.2 124.41,358.06 124.41,362.34" fill="#cc9a10"/>
<polygon points="167.03,361.7 170.93,359.56 170.93,363.84" fill="#cc9a10"/>
<polygon points="187.06,365.5 190.96,363.36 190.96,367.64" fill="#cc9a10"/>
<polygon points="207.09,367.4 210.99,365.25 210.99,369.54" fill="#cc9a10"/>
<polygon points="233.58,369.2 237.48,367.06 237.48,371.34" fill="#cc9a10"/>
<polygon points="253.61,374.4 257.51,372.25 257.51,376.54" fill="#cc9a10"/>
<polygon points="273.64,378.4 277.54,376.25 277.54,380.54" fill="#cc9a10"/>
<polygon points="320.16,380.7 324.06,378.56 324.06,382.84" fill="#cc9a10"/>
<polygon points="78.67,325.1 74.77,322.96 74.77,327.25" fill="#40dcd0"/>
<polygon points="105.16,321.7 101.26,319.56 101.26,323.84" fill="#40dcd0"/>
<polygon points="125.19,334.8 121.29,332.66 121.29,336.94" fill="#40dcd0"/>
<polygon points="171.71,343.5 167.81,341.36 167.81,345.64" fill="#40dcd0"/>
<polygon points="191.74,358 187.84,355.86 187.84,360.14" fill="#40dcd0"/>
<polygon points="211.77,362.7 207.87,360.56 207.87,364.84" fill="#40dcd0"/>
<polygon points="238.26,371.6 234.36,369.46 234.36,373.75" fill="#40dcd0"/>
<polygon points="258.29,376.3 254.39,374.16 254.39,378.44" fill="#40dcd0"/>
<polygon points="278.32,374.4 274.42,372.25 274.42,376.54" fill="#40dcd0"/>
<polygon points="324.84,385.4 320.94,383.25 320.94,387.54" fill="#40dcd0"/>
<circle cx="76.33" cy="249" r="1.85" fill="#7a3e46"/>
<circle cx="102.82" cy="262.1" r="1.85" fill="#7a3e46"/>
<circle cx="122.85" cy="277.1" r="1.85" fill="#7a3e46"/>
<circle cx="169.37" cy="286.1" r="1.85" fill="#7a3e46"/>
<circle cx="189.4" cy="302.5" r="1.85" fill="#7a3e46"/>
<circle cx="209.43" cy="308.6" r="1.85" fill="#7a3e46"/>
<circle cx="235.92" cy="313.3" r="1.85" fill="#7a3e46"/>
<circle cx="255.95" cy="322.6" r="1.85" fill="#7a3e46"/>
<circle cx="275.98" cy="330.8" r="1.85" fill="#7a3e46"/>
<circle cx="322.5" cy="337.8" r="1.85" fill="#7a3e46"/>
<rect x="256.4" y="245" width="54.9" height="70.3" fill="#000"/>
<rect x="254.4" y="243" width="54.9" height="70.3" fill="#fff" stroke="#606060" stroke-width="0.6"/>
<line x1="254.6" y1="247.8" x2="269.3" y2="247.8" stroke="#707070" stroke-width="0.6" />
<rect x="260.6" y="246.2" width="3.2" height="3.2" fill="#4a4a4a"/>
<text x="270.9" y="250.1" font-size="6.4" font-weight="normal" fill="#202020" text-anchor="start" >P(VDF-TrFE)</text>
<line x1="254.6" y1="255.48" x2="269.3" y2="255.48" stroke="#f08a8a" stroke-width="0.6" />
<circle cx="262.2" cy="255.48" r="1.85" fill="#ee3b3b"/>
<text x="270.9" y="257.78" font-size="6.4" font-weight="normal" fill="#202020" text-anchor="start" >CFO5</text>
<line x1="254.6" y1="263.16" x2="269.3" y2="263.16" stroke="#8ab0ee" stroke-width="0.6" />
<polygon points="262.2,260.82 264.34,264.72 260.06,264.72" fill="#2f6fe0"/>
<text x="270.9" y="265.46" font-size="6.4" font-weight="normal" fill="#202020" text-anchor="start" >CFO10</text>
<line x1="254.6" y1="270.84" x2="269.3" y2="270.84" stroke="#7fcc9e" stroke-width="0.6" />
<polygon points="262.2,273.18 264.34,269.28 260.06,269.28" fill="#35b06a"/>
<text x="270.9" y="273.14" font-size="6.4" font-weight="normal" fill="#202020" text-anchor="start" >CFO20</text>
<line x1="254.6" y1="278.52" x2="269.3" y2="278.52" stroke="#e880cc" stroke-width="0.6" />
<polygon points="262.2,276.28 262.76,277.74 264.33,277.83 263.11,278.82 263.52,280.33 262.2,279.48 260.88,280.33 261.29,278.82 260.07,277.83 261.64,277.74" fill="#e040b8"/>
<text x="270.9" y="280.82" font-size="6.4" font-weight="normal" fill="#202020" text-anchor="start" >CFO20NP</text>
<line x1="254.6" y1="286.2" x2="269.3" y2="286.2" stroke="#cfaaf5" stroke-width="0.6" />
<polygon points="262.2,284.06 264.34,286.2 262.2,288.34 260.06,286.2" fill="#b070f0"/>
<text x="270.9" y="288.5" font-size="6.4" font-weight="normal" fill="#202020" text-anchor="start" >FO20</text>
<line x1="254.6" y1="293.88" x2="269.3" y2="293.88" stroke="#dcc070" stroke-width="0.6" />
<polygon points="259.86,293.88 263.76,291.74 263.76,296.02" fill="#cc9a10"/>
<text x="270.9" y="296.18" font-size="6.4" font-weight="normal" fill="#202020" text-anchor="start" >Nd20</text>
<line x1="254.6" y1="301.56" x2="269.3" y2="301.56" stroke="#70e4da" stroke-width="0.6" />
<polygon points="264.54,301.56 260.64,299.42 260.64,303.7" fill="#40dcd0"/>
<text x="270.9" y="303.86" font-size="6.4" font-weight="normal" fill="#202020" text-anchor="start" >NFM20</text>
<line x1="254.6" y1="309.24" x2="269.3" y2="309.24" stroke="#b09c9c" stroke-width="0.6" />
<circle cx="262.2" cy="309.24" r="1.85" fill="#7a3e46"/>
<text x="270.9" y="311.54" font-size="6.4" font-weight="normal" fill="#202020" text-anchor="start" >NZFO20</text>
<rect x="398" y="234.5" width="284.6" height="180.7" fill="none" stroke="#767676" stroke-width="1.2"/>
<line x1="398" y1="415.2" x2="398" y2="418.2" stroke="#767676" stroke-width="0.8" />
<text x="398" y="428.3" font-size="11.3" font-weight="bold" fill="#000" text-anchor="middle" >100</text>
<line x1="464.5" y1="415.2" x2="464.5" y2="418.2" stroke="#767676" stroke-width="0.8" />
<text x="464.5" y="428.3" font-size="11.3" font-weight="bold" fill="#000" text-anchor="middle" >1k</text>
<line x1="531" y1="415.2" x2="531" y2="418.2" stroke="#767676" stroke-width="0.8" />
<text x="531" y="428.3" font-size="11.3" font-weight="bold" fill="#000" text-anchor="middle" >10k</text>
<line x1="597.5" y1="415.2" x2="597.5" y2="418.2" stroke="#767676" stroke-width="0.8" />
<text x="597.5" y="428.3" font-size="11.3" font-weight="bold" fill="#000" text-anchor="middle" >100k</text>
<line x1="664" y1="415.2" x2="664" y2="418.2" stroke="#767676" stroke-width="0.8" />
<text x="664" y="428.3" font-size="11.3" font-weight="bold" fill="#000" text-anchor="middle" >1M</text>
<line x1="418.02" y1="415.2" x2="418.02" y2="417" stroke="#767676" stroke-width="0.7" />
<line x1="429.73" y1="415.2" x2="429.73" y2="417" stroke="#767676" stroke-width="0.7" />
<line x1="438.04" y1="415.2" x2="438.04" y2="417" stroke="#767676" stroke-width="0.7" />
<line x1="444.48" y1="415.2" x2="444.48" y2="417" stroke="#767676" stroke-width="0.7" />
<line x1="449.75" y1="415.2" x2="449.75" y2="417" stroke="#767676" stroke-width="0.7" />
<line x1="454.2" y1="415.2" x2="454.2" y2="417" stroke="#767676" stroke-width="0.7" />
<line x1="458.06" y1="415.2" x2="458.06" y2="417" stroke="#767676" stroke-width="0.7" />
<line x1="461.46" y1="415.2" x2="461.46" y2="417" stroke="#767676" stroke-width="0.7" />
<line x1="484.52" y1="415.2" x2="484.52" y2="417" stroke="#767676" stroke-width="0.7" />
<line x1="496.23" y1="415.2" x2="496.23" y2="417" stroke="#767676" stroke-width="0.7" />
<line x1="504.54" y1="415.2" x2="504.54" y2="417" stroke="#767676" stroke-width="0.7" />
<line x1="510.98" y1="415.2" x2="510.98" y2="417" stroke="#767676" stroke-width="0.7" />
<line x1="516.25" y1="415.2" x2="516.25" y2="417" stroke="#767676" stroke-width="0.7" />
<line x1="520.7" y1="415.2" x2="520.7" y2="417" stroke="#767676" stroke-width="0.7" />
<line x1="524.56" y1="415.2" x2="524.56" y2="417" stroke="#767676" stroke-width="0.7" />
<line x1="527.96" y1="415.2" x2="527.96" y2="417" stroke="#767676" stroke-width="0.7" />
<line x1="551.02" y1="415.2" x2="551.02" y2="417" stroke="#767676" stroke-width="0.7" />
<line x1="562.73" y1="415.2" x2="562.73" y2="417" stroke="#767676" stroke-width="0.7" />
<line x1="571.04" y1="415.2" x2="571.04" y2="417" stroke="#767676" stroke-width="0.7" />
<line x1="577.48" y1="415.2" x2="577.48" y2="417" stroke="#767676" stroke-width="0.7" />
<line x1="582.75" y1="415.2" x2="582.75" y2="417" stroke="#767676" stroke-width="0.7" />
<line x1="587.2" y1="415.2" x2="587.2" y2="417" stroke="#767676" stroke-width="0.7" />
<line x1="591.06" y1="415.2" x2="591.06" y2="417" stroke="#767676" stroke-width="0.7" />
<line x1="594.46" y1="415.2" x2="594.46" y2="417" stroke="#767676" stroke-width="0.7" />
<line x1="617.52" y1="415.2" x2="617.52" y2="417" stroke="#767676" stroke-width="0.7" />
<line x1="629.23" y1="415.2" x2="629.23" y2="417" stroke="#767676" stroke-width="0.7" />
<line x1="637.54" y1="415.2" x2="637.54" y2="417" stroke="#767676" stroke-width="0.7" />
<line x1="643.98" y1="415.2" x2="643.98" y2="417" stroke="#767676" stroke-width="0.7" />
<line x1="649.25" y1="415.2" x2="649.25" y2="417" stroke="#767676" stroke-width="0.7" />
<line x1="653.7" y1="415.2" x2="653.7" y2="417" stroke="#767676" stroke-width="0.7" />
<line x1="657.56" y1="415.2" x2="657.56" y2="417" stroke="#767676" stroke-width="0.7" />
<line x1="660.96" y1="415.2" x2="660.96" y2="417" stroke="#767676" stroke-width="0.7" />
<line x1="395" y1="415.2" x2="398" y2="415.2" stroke="#767676" stroke-width="0.8" />
<text x="392.5" y="419.1" font-size="11.3" font-weight="bold" fill="#000" text-anchor="end" >0.00</text>
<line x1="395" y1="379.06" x2="398" y2="379.06" stroke="#767676" stroke-width="0.8" />
<text x="392.5" y="382.96" font-size="11.3" font-weight="bold" fill="#000" text-anchor="end" >0.05</text>
<line x1="395" y1="342.92" x2="398" y2="342.92" stroke="#767676" stroke-width="0.8" />
<text x="392.5" y="346.82" font-size="11.3" font-weight="bold" fill="#000" text-anchor="end" >0.10</text>
<line x1="395" y1="306.78" x2="398" y2="306.78" stroke="#767676" stroke-width="0.8" />
<text x="392.5" y="310.68" font-size="11.3" font-weight="bold" fill="#000" text-anchor="end" >0.15</text>
<line x1="395" y1="270.64" x2="398" y2="270.64" stroke="#767676" stroke-width="0.8" />
<text x="392.5" y="274.54" font-size="11.3" font-weight="bold" fill="#000" text-anchor="end" >0.20</text>
<line x1="395" y1="234.5" x2="398" y2="234.5" stroke="#767676" stroke-width="0.8" />
<text x="392.5" y="238.4" font-size="11.3" font-weight="bold" fill="#000" text-anchor="end" >0.25</text>
<line x1="396" y1="397.13" x2="398" y2="397.13" stroke="#767676" stroke-width="0.8" />
<line x1="396" y1="360.99" x2="398" y2="360.99" stroke="#767676" stroke-width="0.8" />
<line x1="396" y1="324.85" x2="398" y2="324.85" stroke="#767676" stroke-width="0.8" />
<line x1="396" y1="288.71" x2="398" y2="288.71" stroke="#767676" stroke-width="0.8" />
<line x1="396" y1="252.57" x2="398" y2="252.57" stroke="#767676" stroke-width="0.8" />
<text x="540.7" y="449.6" font-size="15.85" font-weight="bold" fill="#000" text-anchor="middle" >Frequency (Hz)</text>
<text transform="translate(364.6,325) rotate(-90)" font-size="15.5" text-anchor="middle"><tspan font-weight="bold">tan</tspan><tspan font-family="Liberation Serif">δ</tspan></text>
<text x="404.8" y="250.7" font-size="15.3" font-weight="bold" fill="#000" text-anchor="start" letter-spacing="0.8">d)</text>
<polyline points="418.02,367.4 444.48,408.8 464.5,400.4 510.98,398.5 531,395.2 551.02,389.6 577.48,394 597.5,368.7 617.52,352.9 664,330.9" fill="none" stroke="#707070" stroke-width="0.6" />
<polyline points="418.02,361.9 444.48,364.3 464.5,381.5 510.98,377.8 531,379.3 551.02,375.6 577.48,372.7 597.5,345 617.52,345.5 664,324.3" fill="none" stroke="#f08a8a" stroke-width="0.6" />
<polyline points="418.02,344.7 444.48,355.9 464.5,354.6 510.98,365.4 531,366.7 551.02,364.3 577.48,371.1 597.5,347 617.52,334.5 664,319.5" fill="none" stroke="#8ab0ee" stroke-width="0.6" />
<polyline points="418.02,322.9 444.48,336.1 464.5,332.6 510.98,340 531,354 551.02,356.2 577.48,352.6 597.5,329.6 617.52,343.4 664,321.3" fill="none" stroke="#7fcc9e" stroke-width="0.6" />
<polyline points="418.02,315.1 444.48,350.4 464.5,336.1 510.98,343.4 531,348.9 551.02,357.7 577.48,352.2 597.5,343.6 617.52,350.8 664,357.4" fill="none" stroke="#e880cc" stroke-width="0.6" />
<polyline points="418.02,315.1 444.48,344.9 464.5,352.4 510.98,359.5 531,364.5 551.02,363.4 577.48,366.1 597.5,348.1 617.52,337 664,324.3" fill="none" stroke="#cfaaf5" stroke-width="0.6" />
<polyline points="418.02,382.8 444.48,387.6 464.5,390 510.98,392.1 531,386.6 551.02,381.1 577.48,380.3 597.5,352.1 617.52,341.5 664,332.2" fill="none" stroke="#dcc070" stroke-width="0.6" />
<polyline points="418.02,272.8 444.48,296.4 464.5,308 510.98,322 531,341.2 551.02,345.2 577.48,337.2 597.5,330.6 617.52,326.6 664,313.9" fill="none" stroke="#70e4da" stroke-width="0.6" />
<polyline points="418.02,306.3 444.48,307.1 464.5,327.8 510.98,339.6 531,352.4 551.02,352.2 577.48,348.4 597.5,345 617.52,321.9 664,311.1" fill="none" stroke="#b09c9c" stroke-width="0.6" />
<rect x="416.42" y="365.8" width="3.2" height="3.2" fill="#4a4a4a"/>
<rect x="442.88" y="407.2" width="3.2" height="3.2" fill="#4a4a4a"/>
<rect x="462.9" y="398.8" width="3.2" height="3.2" fill="#4a4a4a"/>
<rect x="509.38" y="396.9" width="3.2" height="3.2" fill="#4a4a4a"/>
<rect x="529.4" y="393.6" width="3.2" height="3.2" fill="#4a4a4a"/>
<rect x="549.42" y="388" width="3.2" height="3.2" fill="#4a4a4a"/>
<rect x="575.88" y="392.4" width="3.2" height="3.2" fill="#4a4a4a"/>
<rect x="595.9" y="367.1" width="3.2" height="3.2" fill="#4a4a4a"/>
<rect x="615.92" y="351.3" width="3.2" height="3.2" fill="#4a4a4a"/>
<rect x="662.4" y="329.3" width="3.2" height="3.2" fill="#4a4a4a"/>
<circle cx="418.02" cy="361.9" r="1.85" fill="#ee3b3b"/>
<circle cx="444.48" cy="364.3" r="1.85" fill="#ee3b3b"/>
<circle cx="464.5" cy="381.5" r="1.85" fill="#ee3b3b"/>
<circle cx="510.98" cy="377.8" r="1.85" fill="#ee3b3b"/>
<circle cx="531" cy="379.3" r="1.85" fill="#ee3b3b"/>
<circle cx="551.02" cy="375.6" r="1.85" fill="#ee3b3b"/>
<circle cx="577.48" cy="372.7" r="1.85" fill="#ee3b3b"/>
<circle cx="597.5" cy="345" r="1.85" fill="#ee3b3b"/>
<circle cx="617.52" cy="345.5" r="1.85" fill="#ee3b3b"/>
<circle cx="664" cy="324.3" r="1.85" fill="#ee3b3b"/>
<polygon points="418.02,342.36 420.16,346.26 415.87,346.26" fill="#2f6fe0"/>
<polygon points="444.48,353.56 446.63,357.46 442.34,357.46" fill="#2f6fe0"/>
<polygon points="464.5,352.26 466.64,356.16 462.36,356.16" fill="#2f6fe0"/>
<polygon points="510.98,363.06 513.13,366.96 508.84,366.96" fill="#2f6fe0"/>
<polygon points="531,364.36 533.14,368.26 528.86,368.26" fill="#2f6fe0"/>
<polygon points="551.02,361.96 553.16,365.86 548.87,365.86" fill="#2f6fe0"/>
<polygon points="577.48,368.76 579.63,372.66 575.34,372.66" fill="#2f6fe0"/>
<polygon points="597.5,344.66 599.64,348.56 595.36,348.56" fill="#2f6fe0"/>
<polygon points="617.52,332.16 619.66,336.06 615.37,336.06" fill="#2f6fe0"/>
<polygon points="664,317.16 666.14,321.06 661.86,321.06" fill="#2f6fe0"/>
<polygon points="418.02,325.24 420.16,321.34 415.87,321.34" fill="#35b06a"/>
<polygon points="444.48,338.44 446.63,334.54 442.34,334.54" fill="#35b06a"/>
<polygon points="464.5,334.94 466.64,331.04 462.36,331.04" fill="#35b06a"/>
<polygon points="510.98,342.34 513.13,338.44 508.84,338.44" fill="#35b06a"/>
<polygon points="531,356.34 533.14,352.44 528.86,352.44" fill="#35b06a"/>
<polygon points="551.02,358.54 553.16,354.64 548.87,354.64" fill="#35b06a"/>
<polygon points="577.48,354.94 579.63,351.04 575.34,351.04" fill="#35b06a"/>
<polygon points="597.5,331.94 599.64,328.04 595.36,328.04" fill="#35b06a"/>
<polygon points="617.52,345.74 619.66,341.84 615.37,341.84" fill="#35b06a"/>
<polygon points="664,323.64 666.14,319.74 661.86,319.74" fill="#35b06a"/>
<polygon points="418.02,312.86 418.58,314.32 420.15,314.41 418.93,315.4 419.34,316.91 418.02,316.06 416.7,316.91 417.11,315.4 415.89,314.41 417.45,314.32" fill="#e040b8"/>
<polygon points="444.48,348.16 445.05,349.62 446.61,349.71 445.39,350.7 445.8,352.21 444.48,351.36 443.16,352.21 443.57,350.7 442.35,349.71 443.92,349.62" fill="#e040b8"/>
<polygon points="464.5,333.86 465.06,335.32 466.63,335.41 465.41,336.4 465.82,337.91 464.5,337.06 463.18,337.91 463.59,336.4 462.37,335.41 463.94,335.32" fill="#e040b8"/>
<polygon points="510.98,341.16 511.55,342.62 513.11,342.71 511.89,343.7 512.3,345.21 510.98,344.36 509.66,345.21 510.07,343.7 508.85,342.71 510.42,342.62" fill="#e040b8"/>
<polygon points="531,346.66 531.56,348.12 533.13,348.21 531.91,349.2 532.32,350.71 531,349.86 529.68,350.71 530.09,349.2 528.87,348.21 530.44,348.12" fill="#e040b8"/>
<polygon points="551.02,355.46 551.58,356.92 553.15,357.01 551.93,358 552.34,359.51 551.02,358.66 549.7,359.51 550.11,358 548.89,357.01 550.45,356.92" fill="#e040b8"/>
<polygon points="577.48,349.96 578.05,351.42 579.61,351.51 578.39,352.5 578.8,354.01 577.48,353.16 576.16,354.01 576.57,352.5 575.35,351.51 576.92,351.42" fill="#e040b8"/>
<polygon points="597.5,341.36 598.06,342.82 599.63,342.91 598.41,343.9 598.82,345.41 597.5,344.56 596.18,345.41 596.59,343.9 595.37,342.91 596.94,342.82" fill="#e040b8"/>
<polygon points="617.52,348.56 618.08,350.02 619.65,350.11 618.43,351.1 618.84,352.61 617.52,351.76 616.2,352.61 616.61,351.1 615.39,350.11 616.95,350.02" fill="#e040b8"/>
<polygon points="664,355.16 664.56,356.62 666.13,356.71 664.91,357.7 665.32,359.21 664,358.36 662.68,359.21 663.09,357.7 661.87,356.71 663.44,356.62" fill="#e040b8"/>
<polygon points="418.02,312.96 420.16,315.1 418.02,317.25 415.87,315.1" fill="#b070f0"/>
<polygon points="444.48,342.75 446.63,344.9 444.48,347.04 442.34,344.9" fill="#b070f0"/>
<polygon points="464.5,350.25 466.64,352.4 464.5,354.54 462.36,352.4" fill="#b070f0"/>
<polygon points="510.98,357.36 513.13,359.5 510.98,361.64 508.84,359.5" fill="#b070f0"/>
<polygon points="531,362.36 533.14,364.5 531,366.64 528.86,364.5" fill="#b070f0"/>
<polygon points="551.02,361.25 553.16,363.4 551.02,365.54 548.87,363.4" fill="#b070f0"/>
<polygon points="577.48,363.96 579.63,366.1 577.48,368.25 575.34,366.1" fill="#b070f0"/>
<polygon points="597.5,345.96 599.64,348.1 597.5,350.25 595.36,348.1" fill="#b070f0"/>
<polygon points="617.52,334.86 619.66,337 617.52,339.14 615.37,337" fill="#b070f0"/>
<polygon points="664,322.16 666.14,324.3 664,326.44 661.86,324.3" fill="#b070f0"/>
<polygon points="415.68,382.8 419.58,380.66 419.58,384.94" fill="#cc9a10"/>
<polygon points="442.14,387.6 446.04,385.46 446.04,389.75" fill="#cc9a10"/>
<polygon points="462.16,390 466.06,387.86 466.06,392.14" fill="#cc9a10"/>
<polygon points="508.64,392.1 512.54,389.96 512.54,394.25" fill="#cc9a10"/>
<polygon points="528.66,386.6 532.56,384.46 532.56,388.75" fill="#cc9a10"/>
<polygon points="548.68,381.1 552.58,378.96 552.58,383.25" fill="#cc9a10"/>
<polygon points="575.14,380.3 579.04,378.16 579.04,382.44" fill="#cc9a10"/>
<polygon points="595.16,352.1 599.06,349.96 599.06,354.25" fill="#cc9a10"/>
<polygon points="615.18,341.5 619.08,339.36 619.08,343.64" fill="#cc9a10"/>
<polygon points="661.66,332.2 665.56,330.06 665.56,334.34" fill="#cc9a10"/>
<polygon points="420.36,272.8 416.46,270.66 416.46,274.94" fill="#40dcd0"/>
<polygon points="446.82,296.4 442.92,294.25 442.92,298.54" fill="#40dcd0"/>
<polygon points="466.84,308 462.94,305.86 462.94,310.14" fill="#40dcd0"/>
<polygon points="513.32,322 509.42,319.86 509.42,324.14" fill="#40dcd0"/>
<polygon points="533.34,341.2 529.44,339.06 529.44,343.34" fill="#40dcd0"/>
<polygon points="553.36,345.2 549.46,343.06 549.46,347.34" fill="#40dcd0"/>
<polygon points="579.82,337.2 575.92,335.06 575.92,339.34" fill="#40dcd0"/>
<polygon points="599.84,330.6 595.94,328.46 595.94,332.75" fill="#40dcd0"/>
<polygon points="619.86,326.6 615.96,324.46 615.96,328.75" fill="#40dcd0"/>
<polygon points="666.34,313.9 662.44,311.75 662.44,316.04" fill="#40dcd0"/>
<circle cx="418.02" cy="306.3" r="1.85" fill="#7a3e46"/>
<circle cx="444.48" cy="307.1" r="1.85" fill="#7a3e46"/>
<circle cx="464.5" cy="327.8" r="1.85" fill="#7a3e46"/>
<circle cx="510.98" cy="339.6" r="1.85" fill="#7a3e46"/>
<circle cx="531" cy="352.4" r="1.85" fill="#7a3e46"/>
<circle cx="551.02" cy="352.2" r="1.85" fill="#7a3e46"/>
<circle cx="577.48" cy="348.4" r="1.85" fill="#7a3e46"/>
<circle cx="597.5" cy="345" r="1.85" fill="#7a3e46"/>
<circle cx="617.52" cy="321.9" r="1.85" fill="#7a3e46"/>
<circle cx="664" cy="311.1" r="1.85" fill="#7a3e46"/>
<rect x="534.6" y="249.2" width="55.2" height="70.2" fill="#000"/>
<rect x="532.6" y="247.2" width="55.2" height="70.2" fill="#fff" stroke="#606060" stroke-width="0.6"/>
<line x1="533.1" y1="251.5" x2="548.1" y2="251.5" stroke="#707070" stroke-width="0.6" />
<rect x="539" y="249.9" width="3.2" height="3.2" fill="#4a4a4a"/>
<text x="549.6" y="253.8" font-size="6.4" font-weight="normal" fill="#202020" text-anchor="start" >P(VDF-TrFE)</text>
<line x1="533.1" y1="259.16" x2="548.1" y2="259.16" stroke="#f08a8a" stroke-width="0.6" />
<circle cx="540.6" cy="259.16" r="1.85" fill="#ee3b3b"/>
<text x="549.6" y="261.46" font-size="6.4" font-weight="normal" fill="#202020" text-anchor="start" >CFO5</text>
<line x1="533.1" y1="266.82" x2="548.1" y2="266.82" stroke="#8ab0ee" stroke-width="0.6" />
<polygon points="540.6,264.48 542.75,268.38 538.46,268.38" fill="#2f6fe0"/>
<text x="549.6" y="269.12" font-size="6.4" font-weight="normal" fill="#202020" text-anchor="start" >CFO10</text>
<line x1="533.1" y1="274.48" x2="548.1" y2="274.48" stroke="#7fcc9e" stroke-width="0.6" />
<polygon points="540.6,276.82 542.75,272.92 538.46,272.92" fill="#35b06a"/>
<text x="549.6" y="276.78" font-size="6.4" font-weight="normal" fill="#202020" text-anchor="start" >CFO20</text>
<line x1="533.1" y1="282.14" x2="548.1" y2="282.14" stroke="#e880cc" stroke-width="0.6" />
<polygon points="540.6,279.9 541.16,281.36 542.73,281.45 541.51,282.44 541.92,283.95 540.6,283.1 539.28,283.95 539.69,282.44 538.47,281.45 540.04,281.36" fill="#e040b8"/>
<text x="549.6" y="284.44" font-size="6.4" font-weight="normal" fill="#202020" text-anchor="start" >CFO20NP</text>
<line x1="533.1" y1="289.8" x2="548.1" y2="289.8" stroke="#cfaaf5" stroke-width="0.6" />
<polygon points="540.6,287.66 542.75,289.8 540.6,291.94 538.46,289.8" fill="#b070f0"/>
<text x="549.6" y="292.1" font-size="6.4" font-weight="normal" fill="#202020" text-anchor="start" >FO20</text>
<line x1="533.1" y1="297.46" x2="548.1" y2="297.46" stroke="#dcc070" stroke-width="0.6" />
<polygon points="538.26,297.46 542.16,295.31 542.16,299.6" fill="#cc9a10"/>
<text x="549.6" y="299.76" font-size="6.4" font-weight="normal" fill="#202020" text-anchor="start" >Nd20</text>
<line x1="533.1" y1="305.12" x2="548.1" y2="305.12" stroke="#70e4da" stroke-width="0.6" />
<polygon points="542.94,305.12 539.04,302.98 539.04,307.26" fill="#40dcd0"/>
<text x="549.6" y="307.42" font-size="6.4" font-weight="normal" fill="#202020" text-anchor="start" >NFM20</text>
<line x1="533.1" y1="312.78" x2="548.1" y2="312.78" stroke="#b09c9c" stroke-width="0.6" />
<circle cx="540.6" cy="312.78" r="1.85" fill="#7a3e46"/>
<text x="549.6" y="315.08" font-size="6.4" font-weight="normal" fill="#202020" text-anchor="start" >NZFO20</text>
</svg>
</body></html>
